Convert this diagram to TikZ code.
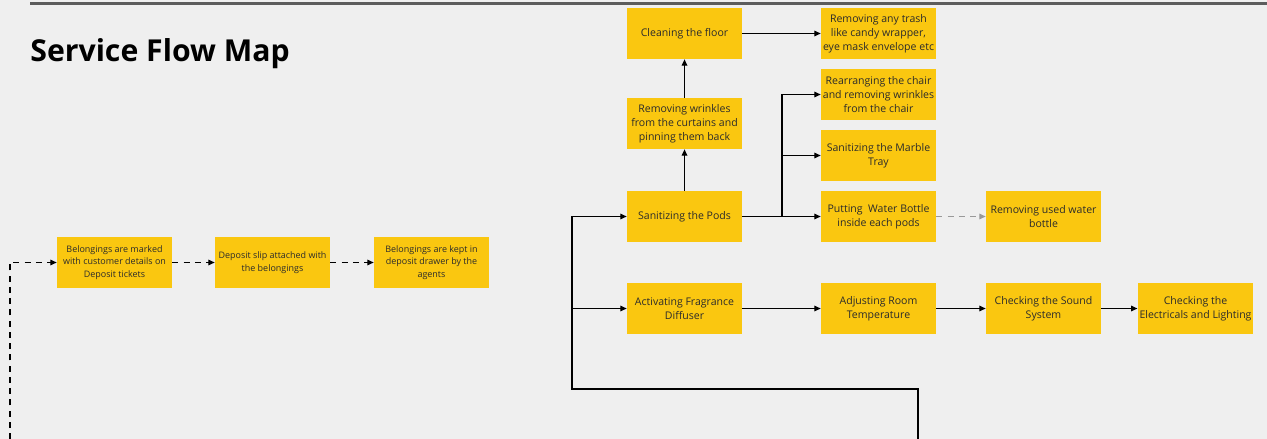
\documentclass[tikz,border=0pt]{standalone}
\usepackage{fontspec}
\setmainfont{Open Sans}
\definecolor{bgcolor}{HTML}{EFEFEF}
\definecolor{cardcolor}{HTML}{FAC710}
\definecolor{rulecolor}{HTML}{5C5C5C}
\definecolor{inkcolor}{HTML}{2B2B2B}
\usetikzlibrary{positioning, arrows.meta}

\begin{document}
\begin{tikzpicture}[
  x=0.02cm, y=-0.02cm,
  card/.style={fill=cardcolor, minimum width=2.3cm, minimum height=1.02cm,
    inner sep=1pt, align=center, text=inkcolor,
    font=\fontsize{6}{7.9}\selectfont},
  smallcard/.style={card, font=\fontsize{5.1}{7.1}\selectfont},
  flow/.style={line width=0.7pt, -{Triangle[length=3.6pt, width=3.2pt]}},
  dashflow/.style={flow, dash pattern=on 3.4pt off 3pt},
  grayflow/.style={dashflow, draw=gray!80}
]

% canvas -- 1px = 0.02cm
\useasboundingbox[fill=bgcolor] (0,0) rectangle (1267,439);
\draw[rulecolor, line width=1.8pt] (30,3.2) -- (1267,3.2);

\node[anchor=base west, inner sep=0pt, font=\fontsize{17.2}{20}\selectfont\bfseries] (title) at (30,62) {Service Flow Map};

% deposit of belongings
\node[smallcard] (marked) at (114.5,262.5) {Belongings are marked\\with customer details on\\Deposit tickets};
\node[smallcard] (slip) at (272.5,262.5) {Deposit slip attached with\\the belongings};
\node[smallcard] (drawer) at (431.5,262.5) {Belongings are kept in\\deposit drawer by the\\agents};

% pod cleaning
\node[card] (floor) at (684.5,33.5) {Cleaning the floor};
\node[card] (trash) at (878.5,33.5) {Removing any trash\\like candy wrapper,\\eye mask envelope etc};
\node[card] (curtain) at (684.5,123.5) {Removing wrinkles\\from the curtains and\\pinning them back};
\node[card] (chair) at (878.5,94.5) {Rearranging the chair\\and removing wrinkles\\from the chair};
\node[card] (tray) at (878.5,155.5) {Sanitizing the Marble\\Tray};
\node[card] (pods) at (684.5,216.5) {Sanitizing the Pods};
\node[card] (bottle) at (878.5,216.5) {Putting\ \ Water Bottle\\inside each pods};
\node[card] (used) at (1043.5,216.5) {Removing used water\\bottle};

% ambience checks
\node[card] (diffuser) at (684.5,308.5) {Activating Fragrance\\Diffuser};
\node[card] (temp) at (878.5,308.5) {Adjusting Room\\Temperature};
\node[card] (sound) at (1043.5,308.5) {Checking the Sound\\System};
\node[card] (lights) at (1195.5,308.5) {Checking the\\Electricals and Lighting};

% free ends and bends
\coordinate (entry) at (10,439);
\coordinate (trunk) at (918,439);
\coordinate (bend) at (572,389);
\coordinate (split) at (782,216.5);

% connectors
\draw[dashflow] (entry) |- (marked);
\draw[dashflow] (marked) -- (slip);
\draw[dashflow] (slip) -- (drawer);

\draw[flow] (trunk) |- (bend) |- (pods);
\draw[flow] (bend) |- (diffuser);
\draw[flow] (pods) -- (bottle);
\draw[flow] (split) |- (chair);
\draw[flow] (split) |- (tray);
\draw[grayflow] (bottle) -- (used);
\draw[flow] (pods) -- (curtain);
\draw[flow] (curtain) -- (floor);
\draw[flow] (floor) -- (trash);
\draw[flow] (diffuser) -- (temp);
\draw[flow] (temp) -- (sound);
\draw[flow] (sound) -- (lights);

\end{tikzpicture}
\end{document}
